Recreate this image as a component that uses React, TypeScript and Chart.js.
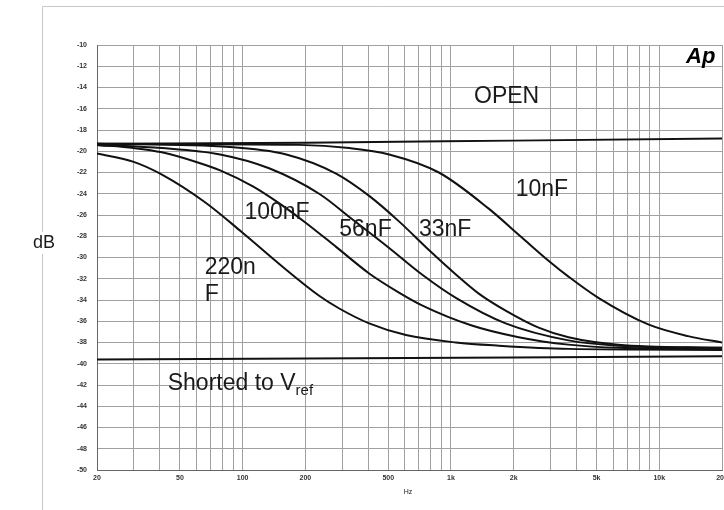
import React, { useEffect, useRef } from "react";
import { Chart, registerables } from "chart.js";

Chart.register(...registerables);

// ---- data ----
const OPEN_F = [20, 200, 2000, 20000];
const OPEN_DB = [-19.3, -19.2, -19.0, -18.8];

const SHORT_F = [20, 200, 2000, 20000];
const SHORT_DB = [-39.6, -39.5, -39.4, -39.3];

const C220_F = [20, 30, 41, 66, 99, 154, 233, 291, 405, 608, 1056, 1700, 3666, 20000];
const C220_DB = [-20.2, -21.0, -22.2, -24.8, -27.6, -30.8, -33.6, -34.8, -36.2, -37.3, -38.0, -38.3, -38.6, -38.7];

const C100_F = [20, 30, 41, 62, 78, 112, 150, 200, 281, 405, 563, 726, 1259, 2114, 3666, 6360, 20000];
const C100_DB = [-19.4, -19.7, -20.1, -21.1, -21.8, -23.3, -24.9, -26.7, -29.0, -31.5, -33.3, -34.5, -36.4, -37.5, -38.2, -38.5, -38.6];

const C56_F = [20, 41, 78, 134, 233, 336, 505, 726, 1056, 1830, 3666, 6360, 20000];
const C56_DB = [-19.4, -19.7, -20.3, -21.6, -24.0, -26.4, -29.1, -31.6, -33.8, -36.2, -37.8, -38.3, -38.5];

const C33_F = [20, 87, 162, 281, 405, 563, 784, 1056, 1360, 1830, 2635, 3666, 6360, 20000];
const C33_DB = [-19.3, -19.6, -20.3, -22.1, -24.2, -26.6, -29.3, -31.6, -33.4, -35.0, -36.6, -37.5, -38.2, -38.5];

const C10_F = [20, 187, 325, 505, 875, 1518, 2184, 2940, 3666, 5100, 8850, 13750, 20000];
const C10_DB = [-19.3, -19.4, -19.7, -20.3, -22.0, -25.4, -28.1, -30.3, -31.8, -33.8, -36.3, -37.4, -38.0];

const X_GRID = [
  20, 30, 40, 50, 60, 70, 80, 90,
  100, 200, 300, 400, 500, 600, 700, 800, 900,
  1000, 2000, 3000, 4000, 5000, 6000, 7000, 8000, 9000,
  10000, 20000,
];
const X_LABEL_VALUES = [20, 50, 100, 200, 500, 1000, 2000, 5000, 10000, 20000];
const X_LABEL_TEXTS = ["20", "50", "100", "200", "500", "1k", "2k", "5k", "10k", "20k"];

const Y_MIN = -50;
const Y_MAX = -10;
const Y_STEP = 2;

// text labels in data coordinates
const LABELS = [
  { text: "OPEN", f: 1290, db: -14.9 },
  { text: "10nF", f: 2044, db: -23.6 },
  { text: "100nF", f: 102, db: -25.8 },
  { text: "56nF", f: 291, db: -27.4 },
  { text: "33nF", f: 702, db: -27.4 },
  { text: "220n", f: 65.8, db: -31.0 },
  { text: "F", f: 65.8, db: -33.5 },
];
const SHORTED_LABEL = { main: "Shorted to V", sub: "ref", f: 43.7, db: -41.9 };

const pts = (f: number[], d: number[]) => f.map((v, i) => ({ x: v, y: d[i] }));

const FONT = '"Liberation Sans", Arial, sans-serif';

const decorPlugin = {
  id: "decor",
  beforeDraw(chart: any) {
    const { ctx, width, height } = chart;
    ctx.save();
    ctx.fillStyle = "#ffffff";
    ctx.fillRect(0, 0, width, height);
    ctx.strokeStyle = "#c8c8c8";
    ctx.lineWidth = 1;
    ctx.beginPath();
    ctx.moveTo(42.5, height);
    ctx.lineTo(42.5, 6.5);
    ctx.lineTo(width, 6.5);
    ctx.stroke();
    ctx.restore();
  },
  afterDraw(chart: any) {
    const { ctx } = chart;
    const xs = chart.scales.x;
    const ys = chart.scales.y;
    ctx.save();
    ctx.fillStyle = "#1a1a1a";
    ctx.font = `23px ${FONT}`;
    ctx.textBaseline = "middle";
    ctx.textAlign = "left";
    for (const l of LABELS) {
      ctx.fillText(l.text, xs.getPixelForValue(l.f), ys.getPixelForValue(l.db));
    }
    const sx = xs.getPixelForValue(SHORTED_LABEL.f);
    const sy = ys.getPixelForValue(SHORTED_LABEL.db);
    ctx.fillText(SHORTED_LABEL.main, sx, sy);
    const w = ctx.measureText(SHORTED_LABEL.main).width;
    ctx.font = `15px ${FONT}`;
    ctx.fillText(SHORTED_LABEL.sub, sx + w, sy + 7);

    // axis titles
    ctx.font = `18px ${FONT}`;
    ctx.textAlign = "left";
    ctx.fillStyle = "#ffffff";
    ctx.fillRect(32, 232, 26, 22);
    ctx.fillStyle = "#1a1a1a";
    ctx.fillText("dB", 33, 243);
    ctx.font = `7px ${FONT}`;
    ctx.textAlign = "center";
    ctx.fillText("Hz", 408, 492);

    // logo
    ctx.font = `italic bold 22px ${FONT}`;
    ctx.textAlign = "left";
    ctx.fillStyle = "#000";
    ctx.fillText("Ap", 686, 57);
    ctx.restore();
  },
};

export default function App() {
  const ref = useRef<HTMLCanvasElement | null>(null);
  useEffect(() => {
    if (!ref.current) return;
    const line = (f: number[], d: number[]) => ({
      data: pts(f, d),
      borderColor: "#111111",
      borderWidth: 2,
      pointRadius: 0,
      fill: false,
      cubicInterpolationMode: "monotone" as const,
    });
    const chart = new Chart(ref.current, {
      type: "line",
      data: {
        datasets: [
          line(OPEN_F, OPEN_DB),
          line(SHORT_F, SHORT_DB),
          line(C220_F, C220_DB),
          line(C100_F, C100_DB),
          line(C56_F, C56_DB),
          line(C33_F, C33_DB),
          line(C10_F, C10_DB),
        ],
      },
      options: {
        animation: false,
        responsive: false,
        devicePixelRatio: 1,
        layout: { padding: { left: 0, top: 45, right: 2, bottom: 0 } },
        plugins: { legend: { display: false }, tooltip: { enabled: false } },
        scales: {
          x: {
            type: "logarithmic",
            min: 20,
            max: 20000,
            afterBuildTicks: (s: any) => {
              s.ticks = X_GRID.map((v) => ({ value: v }));
            },
            afterFit: (s: any) => {
              s.height = 40;
              s.paddingLeft = 0;
              s.paddingRight = 0;
            },
            grid: { color: "#a0a0a0", lineWidth: 1, drawTicks: false },
            border: { color: "#666666" },
            ticks: {
              autoSkip: false,
              maxRotation: 0,
              padding: 4,
              color: "#333",
              font: { size: 7, family: FONT, weight: "bold" },
              callback: (v: any) => {
                const i = X_LABEL_VALUES.indexOf(Number(v));
                return i >= 0 ? X_LABEL_TEXTS[i] : "";
              },
            },
          },
          y: {
            min: Y_MIN,
            max: Y_MAX,
            afterFit: (s: any) => {
              s.width = 97;
            },
            grid: { color: "#a0a0a0", lineWidth: 1, drawTicks: false },
            border: { color: "#666666" },
            ticks: {
              stepSize: Y_STEP,
              padding: 10,
              color: "#333",
              font: { size: 7, family: FONT, weight: "bold" },
              callback: (v: any) => String(v),
            },
          },
        },
      },
      plugins: [decorPlugin],
    });
    return () => chart.destroy();
  }, []);
  return (
    <div style={{ position: "absolute", left: 0, top: 0, width: 724, height: 510 }}>
      <canvas ref={ref} width={724} height={510} style={{ display: "block" }} />
    </div>
  );
}
